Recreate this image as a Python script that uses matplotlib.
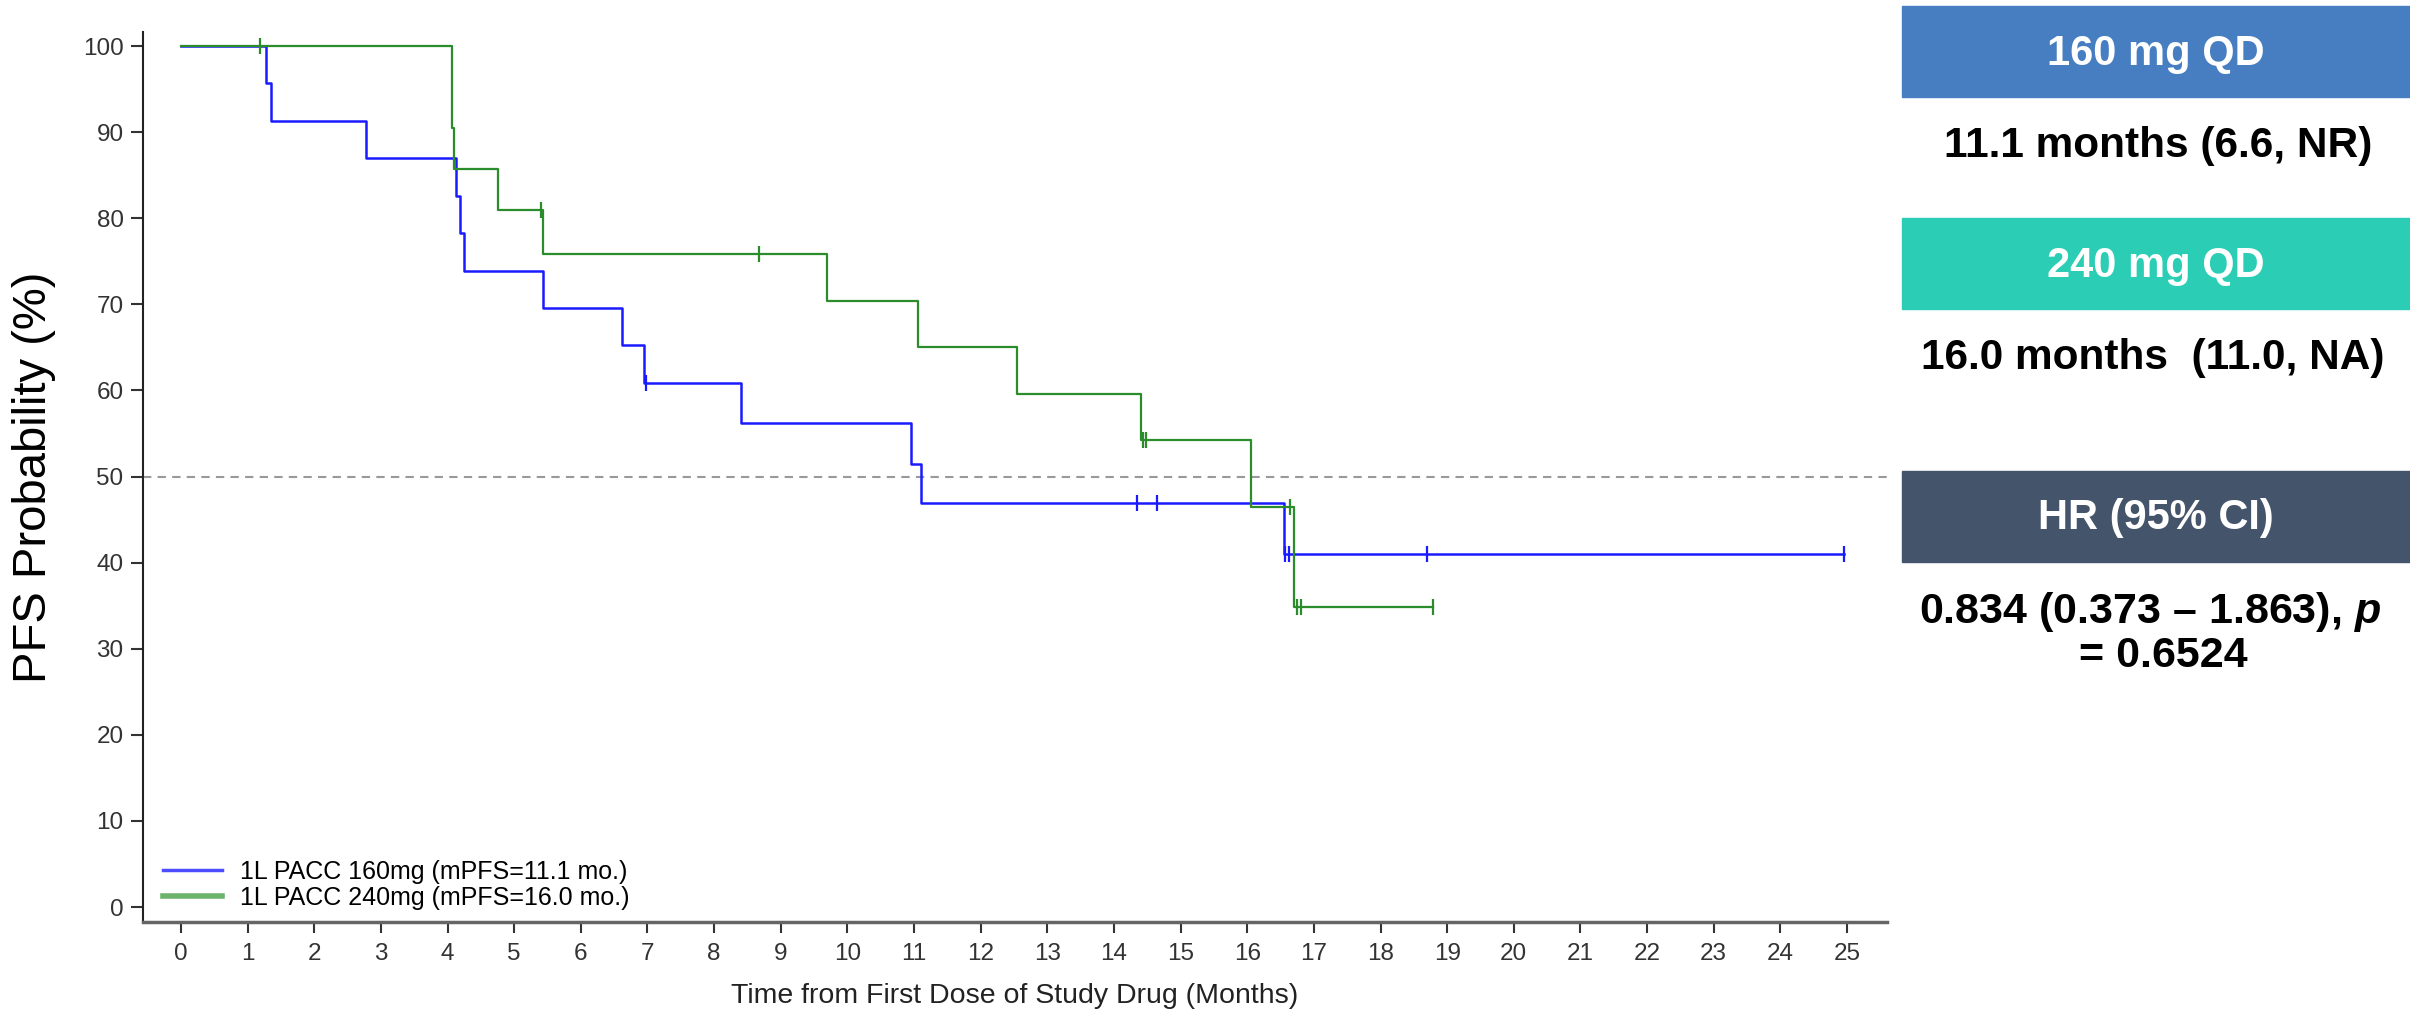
import matplotlib
matplotlib.use("Agg")
import matplotlib.pyplot as plt
from matplotlib.patches import Rectangle
from matplotlib.lines import Line2D
import numpy as np

# Kaplan-Meier steps (months, PFS %)
blue_times = [0, 1.27, 1.35, 2.77, 4.12, 4.19, 4.25, 5.43, 6.62, 6.95, 8.41, 10.96, 11.10, 16.55, 24.95]
blue_surv = [100, 95.65, 91.30, 86.96, 82.61, 78.26, 73.91, 69.57, 65.22, 60.87, 56.2, 51.5, 46.9, 41.0, 41.0]
blue_censor = [6.98, 14.35, 14.65, 16.57, 16.63, 18.70, 24.95]

green_times = [0, 4.06, 4.10, 4.75, 5.43, 9.70, 11.06, 12.54, 14.40, 16.05, 16.70, 18.79]
green_surv = [100, 90.48, 85.71, 80.95, 75.9, 70.4, 65.0, 59.6, 54.2, 46.5, 34.9, 34.9]
green_censor = [1.19, 5.40, 8.68, 14.43, 14.48, 16.64, 16.74, 16.81, 18.79]

series_labels = ['1L PACC 160mg (mPFS=11.1 mo.)', '1L PACC 240mg (mPFS=16.0 mo.)']
x_ticks = list(range(0, 26))
y_ticks = list(range(0, 101, 10))

panel_headers = ['160 mg QD', '240 mg QD', 'HR (95% CI)']
panel_values = ['11.1 months (6.6, NR)', '16.0 months  (11.0, NA)']
hr_line1 = '0.834 (0.373 \u2013 1.863), $p$'
hr_line2 = '= 0.6524'

W, H = 2410, 1010

plt.rcParams['font.family'] = ['Liberation Sans', 'DejaVu Sans']
plt.rcParams['mathtext.fontset'] = 'custom'
plt.rcParams['mathtext.it'] = 'Liberation Sans:italic:bold'
plt.rcParams['mathtext.rm'] = 'Liberation Sans:bold'


def fx(px):
    return px / W


def fy(py):
    return 1 - py / H


def surv_at(times, surv, t):
    i = np.searchsorted(np.array(times), t, side='right') - 1
    return surv[i]


fig = plt.figure(figsize=(W / 100, H / 100), dpi=100)
ax = fig.add_axes([fx(143), fy(922), fx(1887) - fx(143), fy(32) - fy(922)])

blue = '#1a1aff'
green = '#2b8c2b'

ax.step(blue_times, blue_surv, where='post', color=blue, lw=1.8, zorder=2)
ax.step(green_times, green_surv, where='post', color=green, lw=1.6, zorder=3)

ax.plot(blue_censor, [surv_at(blue_times, blue_surv, t) for t in blue_censor],
        ls='none', marker='|', ms=12, mew=1.6, color=blue, zorder=2)
ax.plot(green_censor, [surv_at(green_times, green_surv, t) for t in green_censor],
        ls='none', marker='|', ms=12, mew=1.6, color=green, zorder=3)

ax.axhline(50, color='#999999', lw=1.5, ls=(0, (4, 3)), zorder=1)

ax.set_xlim(-0.57, 25.6)
ax.set_ylim(-1.74, 101.63)
ax.set_xticks(x_ticks)
ax.set_yticks(y_ticks)

for s in ['top', 'right']:
    ax.spines[s].set_visible(False)
ax.spines['left'].set_color('#222222')
ax.spines['left'].set_linewidth(1.5)
ax.spines['bottom'].set_color('#666666')
ax.spines['bottom'].set_linewidth(2.5)

ax.tick_params(axis='x', direction='out', length=8, width=1.5, color='#333333',
               labelsize=17.5, labelcolor='#333333', pad=7)
ax.tick_params(axis='y', direction='out', length=9, width=1.5, color='#333333',
               labelsize=17.5, labelcolor='#333333', pad=5)

ax.set_xlabel('Time from First Dose of Study Drug (Months)', fontsize=20.5,
              color='#222222', labelpad=13)
fig.text(fx(34), fy(477), 'PFS Probability (%)', rotation=90, fontsize=34,
         ha='center', va='center', color='black')

handles = [Line2D([], [], color='#4d4dff', lw=2.5),
           Line2D([], [], color='#6cb36c', lw=4)]
ax.legend(handles, series_labels, loc='lower left', bbox_to_anchor=(0.0115, 0.0136),
          frameon=False, fontsize=18, handlelength=2.36, handletextpad=0.72,
          labelspacing=0.08, borderpad=0, borderaxespad=0)

# right-hand summary panel
box_colors = ['#477ec2', '#2bcdb4', '#44546a']
box_tops = [6, 218, 471]
box_h = 91
for name, col, top in zip(panel_headers, box_colors, box_tops):
    fig.patches.append(Rectangle((fx(1902), fy(top + box_h)), fx(W) - fx(1902),
                                 fy(top) - fy(top + box_h), transform=fig.transFigure,
                                 color=col, zorder=0))
    fig.text(fx(2156), fy(top + box_h / 2 + 2), name, fontsize=30, fontweight='bold',
             color='white', ha='center', va='center')

fig.text(fx(2158), fy(146), panel_values[0], fontsize=30.5, fontweight='bold',
         ha='center', va='center', color='black')
fig.text(fx(2153), fy(358), panel_values[1], fontsize=30.5, fontweight='bold',
         ha='center', va='center', color='black')
fig.text(fx(2150), fy(612), hr_line1, fontsize=31, fontweight='bold',
         ha='center', va='center', color='black')
fig.text(fx(2163), fy(656), hr_line2, fontsize=31, fontweight='bold',
         ha='center', va='center', color='black')

fig.savefig('out.png', dpi=100)
